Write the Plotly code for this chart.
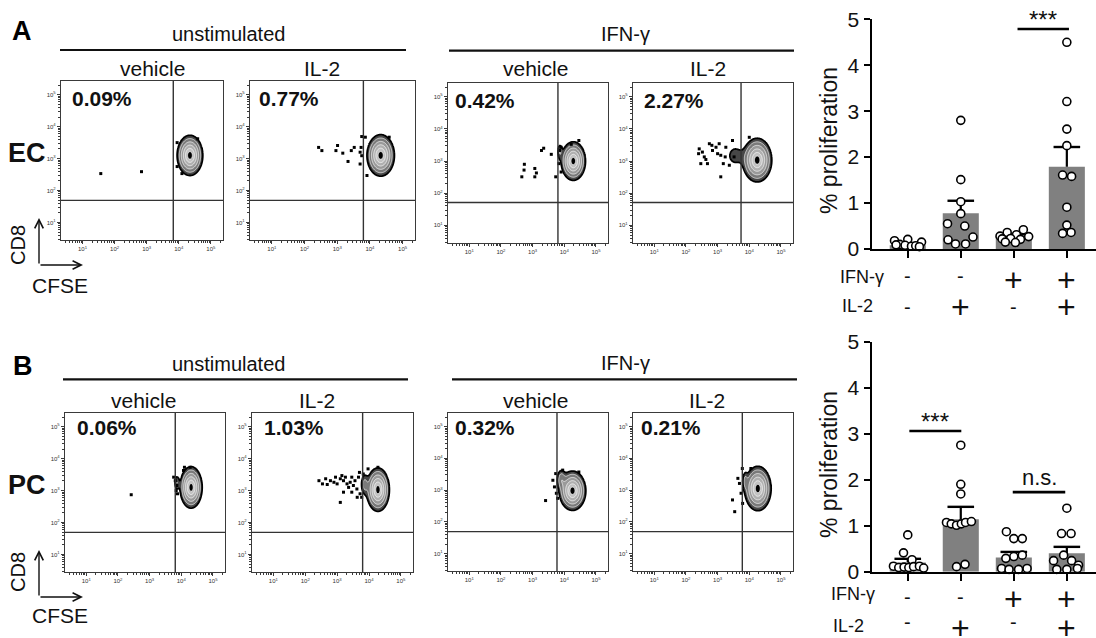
import numpy as np
import plotly.graph_objects as go

W, H = 1096, 638
FONT = "Liberation Sans, Arial, Helvetica, sans-serif"


def fx(px):
    return px / W


def fy(py):
    return 1 - py / H


# ---------------- data ----------------
panel_letters = ["A", "B"]
row_labels = ["EC", "PC"]
group_labels = ["unstimulated", "IFN-γ"]
treatment_labels = ["vehicle", "IL-2", "vehicle", "IL-2"]
pct_labels = ["0.09%", "0.77%", "0.42%", "2.27%", "0.06%", "1.03%", "0.32%", "0.21%"]

# quadrant gates (log10 units)
gate_cfse = [3.83, 3.80, 3.80, 3.74, 3.81, 3.80, 3.77, 3.78]
gate_cd8 = [1.69, 1.69, 1.71, 1.71, 1.69, 1.69, 1.69, 1.69]

# main (undivided) population: centre and half-extent of the outer contour (log10 units)
pop_cx = [4.35, 4.33, 4.285, 4.25, 4.31, 4.28, 4.26, 4.27]
pop_cy = [3.10, 3.10, 3.00, 3.03, 3.10, 3.03, 2.98, 3.05]
pop_hx = [0.40, 0.42, 0.385, 0.46, 0.35, 0.36, 0.42, 0.42]
pop_hy = [0.63, 0.65, 0.60, 0.68, 0.65, 0.68, 0.62, 0.70]

# shoulders of dividing cells next to the main population
tail_panel = [3, 2, 4, 5, 6, 7]
tail_cx = [3.55, 3.86, 3.86, 3.86, 3.90, 3.87]
tail_cy = [3.17, 3.30, 3.25, 3.20, 3.35, 3.30]
tail_sx = [0.18, 0.05, 0.05, 0.07, 0.08, 0.05]
tail_sy = [0.22, 0.15, 0.15, 0.20, 0.18, 0.17]
tail_w = [0.15, 0.18, 0.18, 0.22, 0.25, 0.18]

# individual events outside the contour (log10 CFSE, log10 CD8)
a1_x = [1.57, 2.84, 3.95, 3.95, 4.59, 4.10]
a1_y = [2.53, 2.59, 3.50, 2.75, 3.62, 2.53]
a2_x = [2.43, 2.53, 2.96, 3.01, 3.17, 3.33, 3.43, 3.52, 3.70, 3.73, 3.75, 3.70, 3.75, 3.86, 3.91, 4.59]
a2_y = [3.35, 3.25, 3.25, 3.41, 3.17, 2.91, 3.25, 3.35, 3.20, 3.35, 3.09, 2.83, 3.69, 3.67, 2.47, 3.67]
a3_x = [2.66, 2.73, 2.74, 3.07, 3.12, 3.07, 3.28, 3.35, 3.59, 3.73, 3.83, 3.85, 3.90, 4.46, 4.22, 3.90]
a3_y = [2.51, 2.72, 2.90, 2.77, 2.63, 2.51, 3.33, 3.40, 3.21, 2.51, 2.92, 3.33, 3.43, 3.64, 3.52, 2.66]
a4_x = [2.42, 2.52, 2.40, 2.58, 2.47, 2.63, 2.74, 2.82, 2.68, 2.84, 2.95, 3.00, 3.10, 3.18, 3.24,
        3.37, 3.10, 3.05, 3.26, 3.52, 3.47, 4.00]
a4_y = [3.38, 3.28, 3.23, 3.13, 2.92, 3.05, 3.54, 3.49, 2.92, 3.33, 3.43, 3.23, 3.18, 2.92, 3.13,
        2.87, 2.51, 3.54, 3.43, 3.13, 3.64, 3.74]
b1_x = [2.42, 3.76, 3.81, 3.86, 3.84, 3.88, 4.10, 4.28, 4.07]
b1_y = [2.87, 3.42, 3.31, 3.16, 3.00, 2.90, 3.73, 3.73, 3.63]
b2_x = [2.43, 2.54, 2.64, 2.69, 2.79, 2.90, 2.95, 3.00, 3.10, 3.15, 3.20, 3.26, 3.31, 3.36, 3.41,
        3.46, 3.51, 3.56, 3.62, 3.67, 3.72, 3.77, 3.10, 3.20, 3.46, 3.63, 3.70, 3.82, 3.97, 4.28]
b2_y = [3.31, 3.21, 3.37, 3.19, 3.31, 3.26, 3.42, 3.21, 3.37, 3.47, 3.31, 3.42, 3.21, 3.10, 3.26,
        3.42, 3.16, 3.31, 3.05, 3.42, 2.90, 2.79, 2.63, 2.95, 2.95, 2.79, 3.57, 3.52, 3.68, 3.73]
b3_x = [3.41, 3.64, 3.69, 3.75, 3.73, 3.79, 3.95, 4.46]
b3_y = [2.67, 3.31, 3.10, 2.90, 3.52, 2.74, 3.63, 3.57]
b4_x = [3.47, 3.54, 3.64, 3.69, 3.74, 3.79, 3.78, 4.05]
b4_y = [2.69, 2.32, 3.37, 3.21, 2.90, 2.58, 3.68, 3.68]
events_x = [a1_x, a2_x, a3_x, a4_x, b1_x, b2_x, b3_x, b4_x]
events_y = [a1_y, a2_y, a3_y, a4_y, b1_y, b2_y, b3_y, b4_y]

# bar charts: % proliferation
conditions = ["vehicle", "IL-2", "IFN-γ", "IFN-γ + IL-2"]
ifn_signs = ["-", "-", "+", "+"]
il2_signs = ["-", "+", "-", "+"]
a_mean = [0.08, 0.78, 0.29, 1.79]
a_sem = [0.02, 0.27, 0.03, 0.43]
b_mean = [0.20, 1.14, 0.31, 0.40]
b_sem = [0.08, 0.27, 0.12, 0.14]

a_g1 = [0.18, 0.21, 0.15, 0.10, 0.08, 0.06, 0.07, 0.09, 0.05]
a_g2 = [2.80, 1.51, 1.03, 0.77, 0.55, 0.50, 0.26, 0.20, 0.11, 0.11]
a_g3 = [0.42, 0.36, 0.31, 0.28, 0.27, 0.23, 0.22, 0.21, 0.15, 0.14]
a_g4 = [4.50, 3.21, 2.61, 2.25, 1.61, 1.58, 0.91, 0.52, 0.36, 0.34]
b_g1 = [0.80, 0.41, 0.26, 0.12, 0.09, 0.10, 0.09, 0.11, 0.12, 0.08]
b_g2 = [2.75, 1.90, 1.69, 1.07, 1.04, 1.01, 1.04, 1.07, 1.09, 0.11, 0.16]
b_g3 = [0.87, 0.72, 0.72, 0.36, 0.33, 0.29, 0.07, 0.05, 0.05, 0.07]
b_g4 = [1.38, 0.83, 0.83, 0.36, 0.24, 0.24, 0.14, 0.05, 0.05, 0.07]

# horizontal scatter of the dots (category units)
a_j1 = [-0.25, 0.0, 0.26, -0.15, -0.05, 0.07, 0.15, -0.22, 0.22]
a_j2 = [0.0, 0.0, 0.0, 0.0, -0.25, 0.075, 0.23, -0.24, -0.1, 0.09]
a_j3 = [0.18, -0.125, 0.05, -0.26, 0.28, -0.06, -0.22, 0.125, -0.16, 0.03]
a_j4 = [0.0, 0.0, 0.0, 0.0, -0.08, 0.09, 0.0, 0.0, 0.08, -0.08]
b_j1 = [0.0, -0.08, 0.08, -0.27, -0.17, -0.07, 0.02, 0.11, 0.22, 0.30]
b_j2 = [0.0, 0.0, 0.0, -0.27, -0.18, -0.08, 0.01, 0.09, 0.20, -0.08, 0.08]
b_j3 = [-0.14, 0.0, 0.16, 0.16, 0.0, -0.15, -0.23, -0.09, 0.09, 0.25]
b_j4 = [0.0, -0.10, 0.08, -0.06, -0.25, 0.09, 0.22, -0.19, 0.0, 0.20]

# significance brackets: (x0, x1, y) in data units of the bar chart
a_sig_x0 = [2.07]
a_sig_x1 = [3.04]
a_sig_y = [4.79]
a_sig_txt = ["***"]
b_sig_x0 = [0.03, 1.98]
b_sig_x1 = [1.01, 2.97]
b_sig_y = [3.06, 1.73]
b_sig_txt = ["***", "n.s."]

# ---------------- layout geometry (pixels) ----------------
flow_boxes = [(61, 81, 223, 240), (250, 81, 415, 240), (448, 83, 608, 243), (633, 83, 793, 243),
              (65, 413, 225, 572), (252, 413, 413, 572), (448, 413, 608, 571), (633, 413, 793, 571)]
XR = [0.33, 5.38]
YR = [0.45, 5.43]

fig = go.Figure()
layout = {}
annotations = []
shapes = []

gx = np.linspace(2.4, 5.35, 220)
gy = np.linspace(1.3, 4.8, 220)
GX, GY = np.meshgrid(gx, gy)
OUTER = 0.1
K = np.sqrt(2 * np.log(1 / OUTER))   # radius (in sd) of the outer contour


def gauss(cx, cy, sx, sy, w=1.0):
    return w * np.exp(-0.5 * (((GX - cx) / sx) ** 2 + ((GY - cy) / sy) ** 2))


# contour bands evenly spaced in "radius" (K - r), r = sqrt(-2 ln density)
LEV_SIZE = 0.35
LEV_END = 1.75
region_colors = ["rgba(255,255,255,0)", "#474747", "#7a7a7a", "#9a9a9a", "#b0b0b0", "#c2c2c2", "#000000"]
NREG = len(region_colors) - 1
CS = [[k / NREG, c] for k, c in enumerate(region_colors)]

minor_vals = [d + np.log10(m) for d in range(0, 6) for m in range(2, 10)]
major_vals = [1, 2, 3, 4, 5]
major_txt = [f"10<sup>{v}</sup>" for v in major_vals]

for p in range(8):
    i = p + 1
    sfx = "" if i == 1 else str(i)
    xa, ya = "x" + sfx, "y" + sfx
    x0, y0, x1, y1 = flow_boxes[p]
    common = dict(showgrid=False, zeroline=False, showline=True, mirror=True, automargin=False,
                  linecolor="#3a3a3a", linewidth=1.2, ticks="outside", ticklen=3,
                  tickwidth=0.8, tickcolor="#3a3a3a", tickvals=major_vals, ticktext=major_txt,
                  tickfont=dict(size=6, color="#333", family=FONT),
                  minor=dict(ticks="outside", ticklen=1.6, tickwidth=0.6, tickcolor="#3a3a3a",
                             tickmode="array", tickvals=minor_vals),
                  fixedrange=True)
    layout["xaxis" + sfx] = dict(domain=[fx(x0), fx(x1)], range=XR, anchor=ya, **common)
    layout["yaxis" + sfx] = dict(domain=[fy(y1), fy(y0)], range=YR, anchor=xa, **common)

    d = gauss(pop_cx[p], pop_cy[p], pop_hx[p] / K, pop_hy[p] / K)
    for t in range(len(tail_panel)):
        if tail_panel[t] == p:
            d = d + gauss(tail_cx[t], tail_cy[t], tail_sx[t], tail_sy[t], tail_w[t])
    q = K - np.sqrt(-2 * np.log(np.clip(d, 1e-12, 1.0)))

    fig.add_trace(go.Contour(x=gx, y=gy, z=q, xaxis=xa, yaxis=ya, autocontour=False,
                             contours=dict(start=0.0, end=LEV_END, size=LEV_SIZE, coloring="fill"),
                             colorscale=CS, showscale=False, line=dict(color="white", width=0.7),
                             hoverinfo="skip"))
    fig.add_trace(go.Contour(x=gx, y=gy, z=q, xaxis=xa, yaxis=ya, autocontour=False,
                             contours=dict(start=0.0, end=0.01, size=1.0, coloring="none"),
                             showscale=False, line=dict(color="black", width=1.8),
                             hoverinfo="skip"))
    fig.add_trace(go.Scatter(x=events_x[p], y=events_y[p], xaxis=xa, yaxis=ya, mode="markers",
                             marker=dict(symbol="square", size=3, color="black"),
                             hoverinfo="skip", showlegend=False))
    shapes.append(dict(type="line", xref=xa, yref=ya + " domain", x0=gate_cfse[p], x1=gate_cfse[p],
                       y0=0, y1=1, line=dict(color="#333", width=1.4)))
    shapes.append(dict(type="line", xref=xa + " domain", yref=ya, x0=0, x1=1, y0=gate_cd8[p],
                       y1=gate_cd8[p], line=dict(color="#333", width=1.4)))


def label(text, px, py, size, xanchor="center", angle=0, color="#111"):
    annotations.append(dict(text=text, x=fx(px), y=fy(py), xref="paper", yref="paper",
                            xanchor=xanchor, yanchor="middle", showarrow=False, textangle=angle,
                            font=dict(size=size, family=FONT, color=color)))


# percentage labels
pct_pos = [(70, 99), (257, 99), (453, 100), (642, 100), (75, 428), (262, 428), (453, 428), (639, 428)]
for p in range(8):
    label(f"<b>{pct_labels[p]}</b>", pct_pos[p][0], pct_pos[p][1], 21, xanchor="left")

# treatment / group headers
treat_pos = [[(152, 68), (322, 68), (535, 68), (708, 68)],
             [(143, 400), (317, 400), (535, 400), (707, 400)]]
group_pos = [[(228, 34), (625, 34)], [(228, 364), (625, 363)]]
group_lines = [[(60, 406, 50), (449, 794, 50.7)], [(63, 408, 379.3), (452, 797, 379.3)]]
for r in range(2):
    for k in range(4):
        label(treatment_labels[k], treat_pos[r][k][0], treat_pos[r][k][1], 21)
    for g in range(2):
        label(group_labels[g], group_pos[r][g][0], group_pos[r][g][1], 20)
        lx0, lx1, ly = group_lines[r][g]
        shapes.append(dict(type="line", xref="paper", yref="paper", x0=fx(lx0), x1=fx(lx1),
                           y0=fy(ly), y1=fy(ly), line=dict(color="#111", width=2.2)))

# row labels, panel letters, axis indicators
row_pos = [(27, 153), (27, 485)]
letter_pos = [(22, 31), (23, 366)]
cd8_pos = [(18, 245), (18, 572)]
cfse_pos = [(60, 285), (60, 615)]
corner = [(39, 265), (39, 597)]
for r in range(2):
    label(f"<b>{row_labels[r]}</b>", row_pos[r][0], row_pos[r][1], 27)
    label(f"<b>{panel_letters[r]}</b>", letter_pos[r][0], letter_pos[r][1], 27, color="#000")
    label("CD8", cd8_pos[r][0], cd8_pos[r][1], 20, angle=-90)
    label("CFSE", cfse_pos[r][0], cfse_pos[r][1], 21)
    cx, cy = corner[r]
    annotations.append(dict(text="", x=fx(cx), y=fy(cy - 47), xref="paper", yref="paper",
                            ax=0, ay=47, showarrow=True, arrowhead=5, arrowsize=1.2,
                            arrowwidth=1.4, arrowcolor="#111"))
    annotations.append(dict(text="", x=fx(cx + 44), y=fy(cy), xref="paper", yref="paper",
                            ax=-44, ay=0, showarrow=True, arrowhead=5, arrowsize=1.2,
                            arrowwidth=1.4, arrowcolor="#111"))

# ---------------- bar charts ----------------
bar_rows = [
    dict(mean=a_mean, sem=a_sem, groups=[a_g1, a_g2, a_g3, a_g4], jit=[a_j1, a_j2, a_j3, a_j4],
         sig=(a_sig_x0, a_sig_x1, a_sig_y, a_sig_txt), top=19.3, bottom=249.0,
         title_y=141, lab_x=838, lab_y=(277, 306), minus_y=(276, 307), plus_y=(280, 306.7)),
    dict(mean=b_mean, sem=b_sem, groups=[b_g1, b_g2, b_g3, b_g4], jit=[b_j1, b_j2, b_j3, b_j4],
         sig=(b_sig_x0, b_sig_x1, b_sig_y, b_sig_txt), top=341.7, bottom=571.7,
         title_y=465, lab_x=829, lab_y=(594, 626), minus_y=(597, 622), plus_y=(599, 627.5)),
]
cats = [0, 1, 2, 3]
for r, br in enumerate(bar_rows):
    i = 9 + r
    xa, ya = f"x{i}", f"y{i}"
    layout[f"xaxis{i}"] = dict(domain=[fx(871.7), 1.0], range=[-0.68, 3.55], anchor=ya, automargin=False,
                               showline=True, linecolor="black", linewidth=2.4, ticks="outside",
                               ticklen=7, tickwidth=2, tickcolor="black", tickvals=cats,
                               showticklabels=False, showgrid=False, zeroline=False, fixedrange=True)
    layout[f"yaxis{i}"] = dict(domain=[fy(br["bottom"]), fy(br["top"])], range=[0, 5], anchor=xa,
                               automargin=False,
                               showline=True, linecolor="black", linewidth=2.4, ticks="outside",
                               ticklen=6, tickwidth=2, tickcolor="black", tickvals=[0, 1, 2, 3, 4, 5],
                               tickfont=dict(size=21, family=FONT, color="#111"),
                               showgrid=False, zeroline=False, fixedrange=True)
    fig.add_trace(go.Bar(x=cats, y=br["mean"], width=0.68, xaxis=xa, yaxis=ya,
                         marker=dict(color="#808080", line=dict(width=0)), hoverinfo="skip",
                         showlegend=False))
    tops = [m + s for m, s in zip(br["mean"], br["sem"])]
    fig.add_trace(go.Scatter(x=cats, y=tops, xaxis=xa, yaxis=ya, mode="markers",
                             marker=dict(symbol="line-ew", size=19, line=dict(width=2.4, color="black")),
                             error_y=dict(type="data", symmetric=False, array=[0] * 4,
                                          arrayminus=br["sem"], width=0, thickness=2.2, color="black"),
                             hoverinfo="skip", showlegend=False, cliponaxis=False))
    for g in range(4):
        vals = br["groups"][g]
        xs = [cats[g] + j for j in br["jit"][g]]
        fig.add_trace(go.Scatter(x=xs, y=vals, xaxis=xa, yaxis=ya, mode="markers",
                                 marker=dict(symbol="circle", size=8, color="white",
                                             line=dict(width=1.6, color="black")),
                                 hoverinfo="skip", showlegend=False, cliponaxis=False))
    sx0, sx1, sy, stxt = br["sig"]
    for k in range(len(sx0)):
        shapes.append(dict(type="line", xref=xa, yref=ya, x0=sx0[k], x1=sx1[k], y0=sy[k], y1=sy[k],
                           line=dict(color="black", width=2.6)))
        star = stxt[k] != "n.s."
        annotations.append(dict(text=stxt[k], x=(sx0[k] + sx1[k]) / 2, y=sy[k], xref=xa, yref=ya,
                                xanchor="center", yanchor="bottom", yshift=-6 if star else 0,
                                showarrow=False,
                                font=dict(size=24 if star else 22, family=FONT, color="#111")))
    label("% proliferation", 829, br["title_y"], 23, angle=-90)
    # condition table
    label("IFN-γ", br["lab_x"], br["lab_y"][0], 18, xanchor="left")
    label("IL-2", br["lab_x"] + 2, br["lab_y"][1], 18, xanchor="left")
    for row_k, signs in enumerate([ifn_signs, il2_signs]):
        for c in range(4):
            s = signs[c]
            sy_px = br["minus_y"][row_k] if s == "-" else br["plus_y"][row_k]
            annotations.append(dict(text=s, x=cats[c], y=fy(sy_px), xref=xa,
                                    yref="paper", xanchor="center", yanchor="middle",
                                    showarrow=False,
                                    font=dict(size=20 if s == "-" else 32, family=FONT, color="#111")))

layout.update(dict(width=W, height=H, margin=dict(l=0, r=0, t=0, b=0, pad=0), showlegend=False,
                   paper_bgcolor="white", plot_bgcolor="white", font=dict(family=FONT),
                   annotations=annotations, shapes=shapes))
fig.update_layout(**layout)
fig.write_html("out.html", config={"displayModeBar": False},
               post_script="document.body.style.margin='0px';")
